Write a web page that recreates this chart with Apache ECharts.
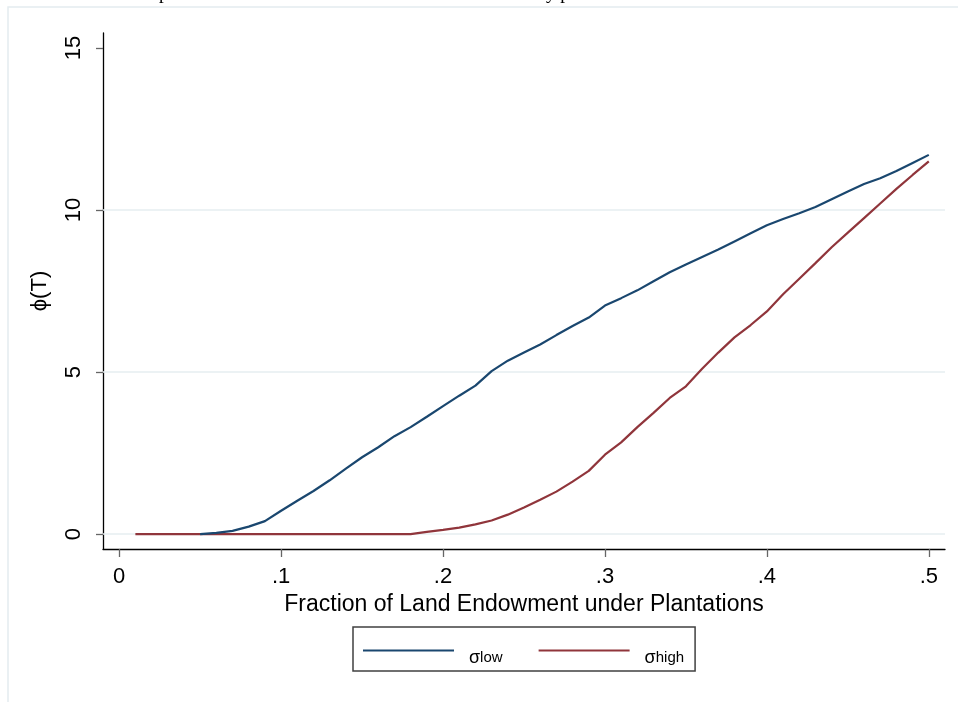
<!DOCTYPE html>
<html>
<head>
<meta charset="utf-8">
<script src="https://cdn.jsdelivr.net/npm/echarts@6/dist/echarts.min.js"></script>
<style>
  html, body { margin: 0; padding: 0; background: #fff; }
  #chart { width: 958px; height: 702px; }
</style>
</head>
<body>
<div id="chart"></div>
<script>
// Fraction of land endowment under plantations (x)
const landFraction = [
  0.01, 0.02, 0.03, 0.04, 0.05, 0.06, 0.07, 0.08, 0.09, 0.10,
  0.11, 0.12, 0.13, 0.14, 0.15, 0.16, 0.17, 0.18, 0.19, 0.20,
  0.21, 0.22, 0.23, 0.24, 0.25, 0.26, 0.27, 0.28, 0.29, 0.30,
  0.31, 0.32, 0.33, 0.34, 0.35, 0.36, 0.37, 0.38, 0.39, 0.40,
  0.41, 0.42, 0.43, 0.44, 0.45, 0.46, 0.47, 0.48, 0.49, 0.50
];
// phi(T) under low sigma (starts at 0.05)
const phiLow = [
  null, null, null, null, 0.00, 0.04, 0.10, 0.23, 0.40, 0.72,
  1.03, 1.33, 1.66, 2.02, 2.37, 2.68, 3.02, 3.30, 3.62, 3.95,
  4.27, 4.58, 5.03, 5.35, 5.60, 5.85, 6.14, 6.42, 6.68, 7.05,
  7.28, 7.52, 7.80, 8.08, 8.32, 8.55, 8.78, 9.03, 9.28, 9.53,
  9.72, 9.90, 10.09, 10.33, 10.57, 10.80, 10.98, 11.20, 11.45, 11.70
];
// phi(T) under high sigma
const phiHigh = [
  0, 0, 0, 0, 0, 0, 0, 0, 0, 0,
  0, 0, 0, 0, 0, 0, 0, 0, 0.07, 0.13,
  0.20, 0.30, 0.42, 0.60, 0.82, 1.06, 1.31, 1.62, 1.95, 2.45,
  2.83, 3.30, 3.74, 4.20, 4.56, 5.10, 5.60, 6.07, 6.45, 6.87,
  7.40, 7.88, 8.36, 8.85, 9.30, 9.75, 10.20, 10.65, 11.08, 11.50
];
const xTicks = [0, 0.1, 0.2, 0.3, 0.4, 0.5];
const yTicks = [0, 5, 10, 15];
const yGridValues = [0, 5, 10];

const FONT = "'Liberation Sans', Arial, sans-serif";
const NAVY = '#1a476f';
const MAROON = '#90353b';

const pairs = (ys) => landFraction.map((x, i) => [x, ys[i]]);
const fmtX = (v) => (v === 0 ? '0' : String(+v.toFixed(2)).replace(/^0\./, '.'));

const chart = echarts.init(document.getElementById('chart'), null, { renderer: 'canvas' });

chart.setOption({
  backgroundColor: '#ffffff',
  animation: false,
  grid: { left: 103, right: 13, top: 33, bottom: 153, containLabel: false },
  xAxis: {
    type: 'value',
    min: -0.01,
    max: 0.51,
    name: 'Fraction of Land Endowment under Plantations',
    nameLocation: 'middle',
    nameGap: 39,
    nameTextStyle: { fontFamily: FONT, fontSize: 23, color: '#000' },
    axisLine: { show: true, onZero: false, lineStyle: { color: '#000', width: 1.3 } },
    axisTick: { show: true, customValues: xTicks, length: 8, lineStyle: { color: '#666', width: 1.3 } },
    axisLabel: { customValues: xTicks, formatter: fmtX, fontFamily: FONT, fontSize: 22, color: '#000', margin: 17 },
    splitLine: { show: false }
  },
  yAxis: {
    type: 'value',
    min: -0.46,
    max: 15.46,
    name: 'ϕ(T)',
    nameLocation: 'middle',
    nameRotate: 90,
    nameGap: 52,
    nameTextStyle: { fontFamily: FONT, fontSize: 22, color: '#000' },
    axisLine: { show: true, onZero: false, lineStyle: { color: '#000', width: 1.3 } },
    axisTick: { show: true, customValues: yTicks, length: 7, lineStyle: { color: '#666', width: 1.3 } },
    axisLabel: { customValues: yTicks, rotate: 90, fontFamily: FONT, fontSize: 22, color: '#000', margin: 18 },
    splitLine: { show: false }
  },
  legend: {
    data: ['σlow', 'σhigh'],
    left: 353,
    top: 627,
    orient: 'horizontal',
    icon: 'rect',
    itemWidth: 91,
    itemHeight: 2,
    itemGap: 36,
    padding: [22, 11, 4, 10],
    borderColor: '#404040',
    borderWidth: 1.5,
    selectedMode: false,
    formatter: (name) => '{s|σ}{t|' + name.slice(1) + '}',
    textStyle: {
      padding: [15, 0, 0, 10],
      color: '#000',
      fontFamily: FONT,
      rich: {
        s: { fontFamily: FONT, fontSize: 18, color: '#000' },
        t: { fontFamily: FONT, fontSize: 15, color: '#000' }
      }
    }
  },
  series: [
    {
      name: 'grid',
      type: 'line',
      data: [],
      silent: true,
      z: 1,
      markLine: {
        silent: true,
        z: 1,
        symbol: 'none',
        label: { show: false },
        lineStyle: { color: '#e6eef1', width: 1.6, type: 'solid' },
        data: yGridValues.map((v) => ({ yAxis: v }))
      }
    },
    {
      name: 'σlow',
      type: 'line',
      data: pairs(phiLow),
      showSymbol: false,
      symbol: 'none',
      z: 3,
      lineStyle: { color: NAVY, width: 2.2 },
      itemStyle: { color: NAVY }
    },
    {
      name: 'σhigh',
      type: 'line',
      data: pairs(phiHigh),
      showSymbol: false,
      symbol: 'none',
      z: 2,
      lineStyle: { color: MAROON, width: 2.2 },
      itemStyle: { color: MAROON }
    }
  ],
  graphic: [
    {
      type: 'rect',
      silent: true,
      shape: { x: 8, y: 7, width: 1000, height: 800 },
      style: { fill: 'none', stroke: '#e4ecef', lineWidth: 1.5 },
      z: -1
    },
    {
      type: 'text',
      silent: true,
      style: { text: 'p', x: 159, y: 4, verticalAlign: 'bottom', fontFamily: "'Liberation Serif', serif", fontSize: 19, fill: '#000' }
    },
    {
      type: 'text',
      silent: true,
      style: { text: 'y p', x: 546, y: 4, verticalAlign: 'bottom', fontFamily: "'Liberation Serif', serif", fontSize: 19, fill: '#000' }
    }
  ]
});
</script>
</body>
</html>
